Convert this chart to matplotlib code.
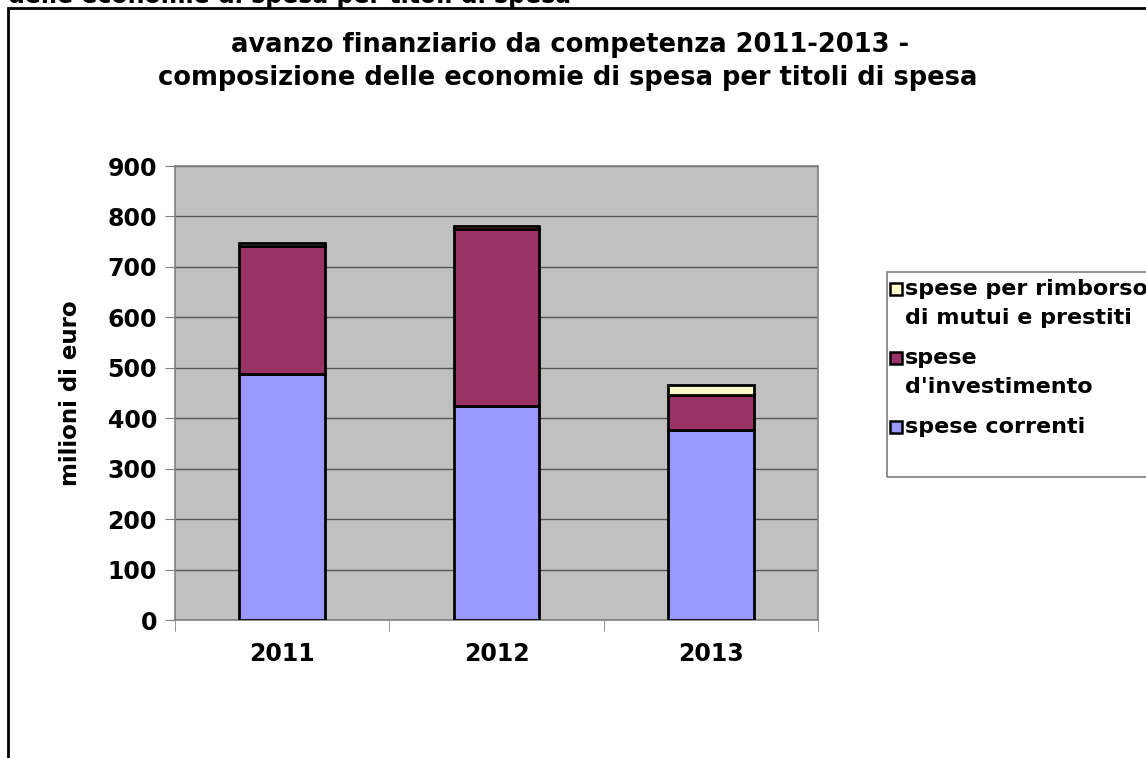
import matplotlib.pyplot as plt
from matplotlib.patches import Rectangle

anni = ["2011", "2012", "2013"]
spese_correnti = [488, 425, 376]
spese_investimento = [254, 351, 71]
spese_rimborso = [5, 5, 19]

y_ticks = [0, 100, 200, 300, 400, 500, 600, 700, 800, 900]

col_correnti = "#9999FF"
col_investimento = "#993366"
col_rimborso = "#FFFFCC"

W, H = 1146, 758

plt.rcParams["font.family"] = "DejaVu Sans"
plt.rcParams["font.weight"] = "bold"

fig = plt.figure(figsize=(W / 100, H / 100), dpi=100)


def fx(px):
    return px / W


def fy(py):
    return 1 - py / H


# outer chart frame, cut off at right and bottom
fig.patches.append(Rectangle((fx(8), -0.05), 1.2, fy(8) + 0.05,
                             transform=fig.transFigure, fill=False,
                             edgecolor="black", linewidth=2.0))

# heading of the page above the frame, only its lower half shows
fig.text(fx(8), fy(3), "delle economie di spesa per titoli di spesa",
         fontsize=17, fontweight="bold", ha="left", va="baseline")

ax = fig.add_axes([fx(175), fy(620), 643 / W, 454 / H])
ax.set_facecolor("#C0C0C0")

x = range(len(anni))
bar_kw = dict(width=0.4, edgecolor="black", linewidth=2, zorder=3)
ax.bar(x, spese_correnti, color=col_correnti, **bar_kw)
ax.bar(x, spese_investimento, bottom=spese_correnti, color=col_investimento, **bar_kw)
base = [a + b for a, b in zip(spese_correnti, spese_investimento)]
ax.bar(x, spese_rimborso, bottom=base, color=col_rimborso, **bar_kw)

ax.set_xlim(-0.5, 2.5)
ax.set_ylim(0, 900)
ax.set_yticks(y_ticks)
ax.set_yticklabels([str(v) for v in y_ticks], fontsize=17, fontweight="bold")
ax.yaxis.grid(True, color="#555555", linewidth=1.0, zorder=0)
ax.set_axisbelow(True)

# category labels in the middle, tick marks between categories
ax.set_xticks(list(x))
ax.set_xticklabels(anni, fontsize=17, fontweight="bold")
ax.tick_params(axis="x", length=0, pad=16)
ax.set_xticks([-0.5, 0.5, 1.5, 2.5], minor=True)
ax.tick_params(axis="x", which="minor", length=8, color="#808080", direction="out")
ax.tick_params(axis="y", length=7, color="#808080", direction="out", pad=6)

for s in ax.spines.values():
    s.set_color("#808080")
    s.set_linewidth(1.2)

ax.set_ylabel("milioni di euro", fontsize=16.5, fontweight="bold", labelpad=18)

fig.text(fx(570), fy(45), "avanzo finanziario da competenza 2011-2013 -",
         fontsize=18.5, fontweight="bold", ha="center", va="center")
fig.text(fx(568), fy(78), "composizione delle economie di spesa per titoli di spesa",
         fontsize=18.5, fontweight="bold", ha="center", va="center")

# legend box running off the right edge
fig.patches.append(Rectangle((fx(887), fy(477)), 0.3, 205 / H,
                             transform=fig.transFigure, fill=False,
                             edgecolor="#808080", linewidth=1.2))
legend_items = [
    (col_rimborso, ["spese per rimborso", "di mutui e prestiti"], 289),
    (col_investimento, ["spese", "d'investimento"], 358),
    (col_correnti, ["spese correnti"], 427),
]
for colore, righe, y0 in legend_items:
    fig.patches.append(Rectangle((fx(890), fy(y0 + 6)), 12 / W, 12 / H,
                                 transform=fig.transFigure, facecolor=colore,
                                 edgecolor="black", linewidth=1.8))
    for i, riga in enumerate(righe):
        fig.text(fx(905), fy(y0 + 29 * i), riga, fontsize=16,
                 fontweight="bold", ha="left", va="center")

fig.savefig("out.png", dpi=100)
